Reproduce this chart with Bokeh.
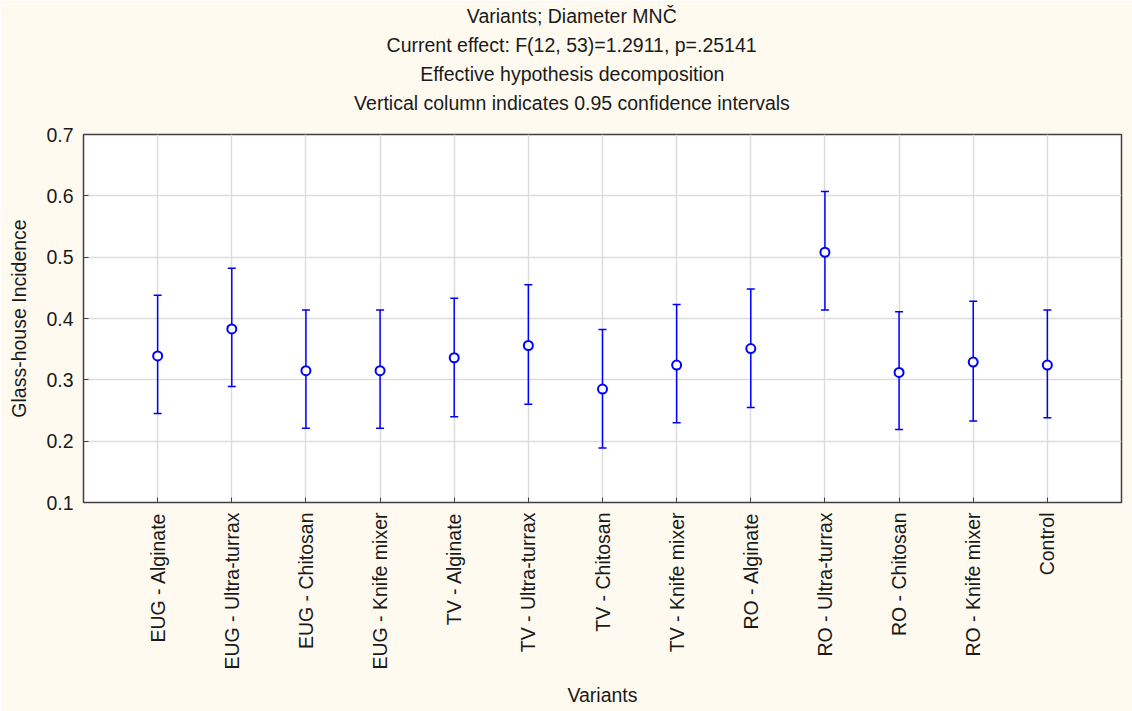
import math
from bokeh.plotting import figure
from bokeh.models import Title, FixedTicker, Range1d, ColumnDataSource, Whisker, TeeHead
from bokeh.embed import file_html
from bokeh.resources import INLINE

categories = ["EUG - Alginate", "EUG - Ultra-turrax", "EUG - Chitosan", "EUG - Knife mixer",
              "TV - Alginate", "TV - Ultra-turrax", "TV - Chitosan", "TV - Knife mixer",
              "RO - Alginate", "RO - Ultra-turrax", "RO - Chitosan", "RO - Knife mixer",
              "Control"]
means = [0.339, 0.383, 0.315, 0.315, 0.336, 0.356, 0.285, 0.324, 0.351, 0.508, 0.312, 0.329, 0.324]
upper = [0.438, 0.482, 0.414, 0.414, 0.433, 0.455, 0.382, 0.423, 0.448, 0.607, 0.411, 0.428, 0.414]
lower = [0.245, 0.289, 0.221, 0.221, 0.240, 0.260, 0.189, 0.230, 0.255, 0.414, 0.219, 0.233, 0.238]
y_ticks = [0.1, 0.2, 0.3, 0.4, 0.5, 0.6, 0.7]
title_lines = ["Variants; Diameter MNČ",
               "Current effect: F(12, 53)=1.2911, p=.25141",
               "Effective hypothesis decomposition",
               "Vertical column indicates 0.95 confidence intervals"]

FONT = "Liberation Sans"
FS_PX = 19.5
FS = f"{FS_PX}px"
BG = "#FFFAF0"
TXT = "#1a1a1a"

W, H = 1132, 711
BL, BR, BT, BB = 83, 11, 134, 209

# Arial / Liberation Sans advance widths (per 1000 em), used to centre the
# title block on the page rather than on the plot frame
_AW = {" ": 278, ",": 278, ".": 278, ";": 278, ":": 278, "(": 333, ")": 333, "=": 584,
       "-": 333, "A": 667, "B": 667, "C": 722, "D": 722, "E": 667, "F": 611, "G": 778,
       "H": 722, "I": 278, "M": 833, "N": 722, "O": 778, "P": 667, "R": 722, "S": 667,
       "T": 611, "U": 722, "V": 667, "Č": 722, "a": 556, "b": 556, "c": 500, "d": 556,
       "e": 556, "f": 278, "g": 556, "h": 556, "i": 222, "j": 222, "k": 500, "l": 222,
       "m": 833, "n": 556, "o": 556, "p": 556, "q": 556, "r": 333, "s": 500, "t": 278,
       "u": 556, "v": 500, "w": 722, "x": 500, "y": 500, "z": 500}


def text_w(s):
    return sum(556 if ch.isdigit() else _AW.get(ch, 556) for ch in s) * FS_PX / 1000.0


TITLE_CX = 572  # page x of the title centre

xs = list(range(1, len(categories) + 1))
src = ColumnDataSource(dict(x=xs, m=means, up=upper, lo=lower))

p = figure(width=W, height=H, output_backend="svg", toolbar_location=None,
           x_range=Range1d(0, len(categories) + 1), y_range=Range1d(y_ticks[0], y_ticks[-1]),
           min_border_left=BL, min_border_right=BR, min_border_top=BT, min_border_bottom=BB)
p.background_fill_color = "white"
p.border_fill_color = BG
p.outline_line_color = "#404040"
p.outline_line_width = 1.5

# spacer between the frame and the last title line
p.add_layout(Title(text=" ", text_font_size="1px", standoff=15), "above")
for line in reversed(title_lines):
    p.add_layout(Title(text=line, align="left", offset=TITLE_CX - BL - text_w(line) / 2,
                       text_font=FONT, text_font_size=FS, text_font_style="normal",
                       text_color=TXT, standoff=5), "above")

p.xaxis.ticker = FixedTicker(ticks=xs)
p.xaxis.major_label_overrides = {x: c for x, c in zip(xs, categories)}
p.xaxis.major_label_orientation = math.pi / 2
p.yaxis.ticker = FixedTicker(ticks=y_ticks)

for ax in (p.xaxis[0], p.yaxis[0]):
    ax.major_label_text_font = FONT
    ax.major_label_text_font_size = FS
    ax.major_label_text_color = TXT
    ax.axis_label_text_font = FONT
    ax.axis_label_text_font_size = FS
    ax.axis_label_text_font_style = "normal"
    ax.axis_label_text_color = TXT
    ax.major_tick_in = 5
    ax.major_tick_out = 0
    ax.minor_tick_in = 0
    ax.minor_tick_out = 0
    ax.axis_line_color = "#404040"
    ax.major_tick_line_color = "#404040"
    ax.major_label_standoff = 10

p.xaxis.axis_label = "Variants"
p.xaxis.axis_label_standoff = 11
p.yaxis.axis_label = "Glass-house Incidence"
p.yaxis.axis_label_standoff = 13

p.grid.grid_line_color = "#DCDCDC"
p.grid.grid_line_width = 1.5

w = Whisker(source=src, base="x", upper="up", lower="lo", line_color="blue", line_width=1.5,
            upper_head=TeeHead(size=8, line_color="blue", line_width=1.5),
            lower_head=TeeHead(size=8, line_color="blue", line_width=1.5))
p.add_layout(w)
p.scatter(x="x", y="m", source=src, marker="circle", size=9, line_color="blue",
          line_width=2, fill_color="white")

open("out.html", "w").write(file_html(p, INLINE))
